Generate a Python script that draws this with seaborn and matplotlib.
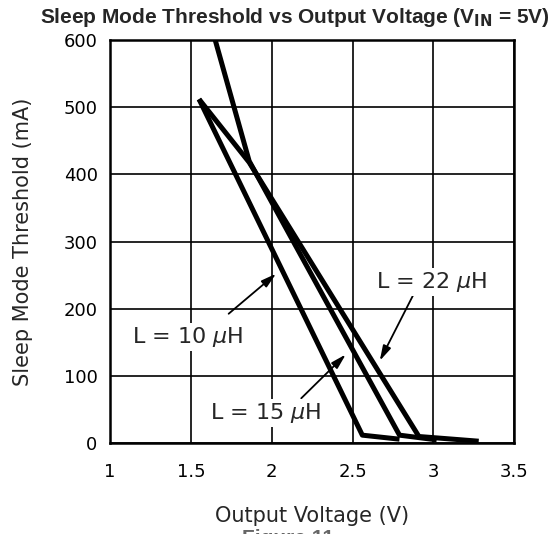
import numpy as np
import pandas as pd
import matplotlib
matplotlib.use("Agg")
import matplotlib.pyplot as plt
import seaborn as sns

# curves (V, mA)
l10_v = [1.55, 2.56, 2.79]
l10_i = [512, 12, 6]
l15_v = [1.65, 1.86, 2.79, 3.02]
l15_i = [600, 420, 12, 5]
l22_v = [1.55, 1.86, 2.91, 3.28]
l22_i = [512, 418, 10, 3]

curve_names = ["L = 10 $\\mu$H", "L = 15 $\\mu$H", "L = 22 $\\mu$H"]
# label centre, arrow tail, arrow tip (data coords)
label_pos = [(1.48, 158), (1.96, 45), (2.99, 240)]
arrow_tail = [(1.72, 190), (2.17, 64), (2.88, 223)]
arrow_tip = [(2.04, 255), (2.47, 135), (2.66, 119)]

x_ticks = [1, 1.5, 2, 2.5, 3, 3.5]
x_ticklabels = ["1", "1.5", "2", "2.5", "3", "3.5"]
y_ticks = [0, 100, 200, 300, 400, 500, 600]

df = pd.concat([
    pd.DataFrame({"v": l10_v, "i": l10_i, "L": "10"}),
    pd.DataFrame({"v": l15_v, "i": l15_i, "L": "15"}),
    pd.DataFrame({"v": l22_v, "i": l22_i, "L": "22"}),
])

sns.set_style("white")
plt.rcParams["font.family"] = ["DejaVu Sans"]

fig = plt.figure(figsize=(5.59, 5.34), dpi=100)
ax = fig.add_axes([0.197, 0.170, 0.723, 0.755])

for name, grp in df.groupby("L"):
    sns.lineplot(data=grp, x="v", y="i", sort=False, estimator=None,
                 color="black", linewidth=3.6, ax=ax, legend=False,
                 solid_capstyle="butt", zorder=3)

ax.set_xlim(1, 3.5)
ax.set_ylim(0, 600)
ax.set_xticks(x_ticks)
ax.set_xticklabels(x_ticklabels)
ax.set_yticks(y_ticks)
ax.grid(True, color="black", linewidth=1.2)
ax.set_axisbelow(True)
for sp in ax.spines.values():
    sp.set_color("black")
    sp.set_linewidth(1.8)
ax.tick_params(axis="both", length=0, labelsize=13, colors="black")
ax.tick_params(axis="x", pad=14)
ax.tick_params(axis="y", pad=9)

ax.set_xlabel("Output Voltage (V)", fontsize=15, labelpad=18)
ax.set_ylabel("Sleep Mode Threshold (mA)", fontsize=15, labelpad=22)

for name, pos, tail, tip in zip(curve_names, label_pos, arrow_tail, arrow_tip):
    ax.annotate("", xy=tip, xytext=tail,
                arrowprops=dict(arrowstyle="-|>,head_length=0.9,head_width=0.25",
                                color="black", lw=1.3), zorder=4)
    ax.text(pos[0], pos[1], name, fontsize=16, ha="center", va="center",
            zorder=5, bbox=dict(facecolor="white", edgecolor="none", pad=1.5))

fig.text(0.528, 0.967, "Sleep Mode Threshold vs Output Voltage (V$_{\\mathbf{IN}}$ = 5V)",
         ha="center", va="center", fontsize=15, fontweight="bold",
         family=["Liberation Sans", "DejaVu Sans"])
fig.text(0.52, 0.009, "Figure 11.", ha="center", va="top", fontsize=15,
         fontweight="bold", color="#666666", family=["Liberation Sans", "DejaVu Sans"])

fig.savefig("out.png", dpi=100)
